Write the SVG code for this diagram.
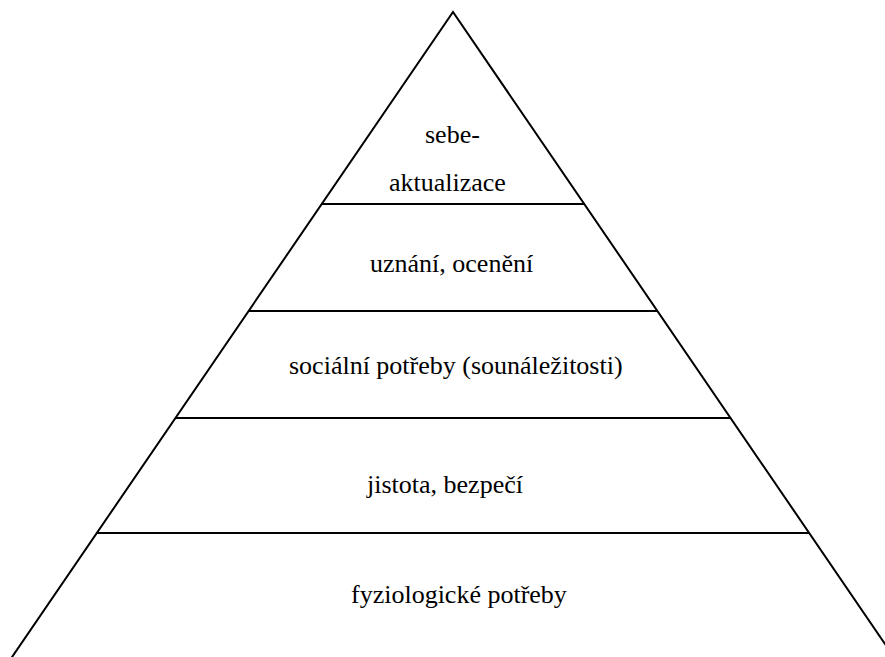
<svg xmlns="http://www.w3.org/2000/svg" width="885" height="657" viewBox="0 0 885 657">
  <rect width="885" height="657" fill="#fff"/>
  <g id="connectors" stroke="#000" stroke-width="2" fill="none">
    <!-- pyramid sides -->
    <polyline points="10,660 453,12 896,660"/>
    <!-- level dividers -->
    <line x1="322" y1="204" x2="584" y2="204"/>
    <line x1="248" y1="311" x2="658" y2="311"/>
    <line x1="175" y1="418" x2="731" y2="418"/>
    <line x1="97" y1="533" x2="809" y2="533"/>
  </g>
  <g id="level-self-actualization">
    <text x="425" y="143" font-family="Liberation Serif" font-size="26">sebe-</text>
    <text x="389" y="191" font-family="Liberation Serif" font-size="26">aktualizace</text>
  </g>
  <g id="level-esteem">
    <text x="370" y="272" font-family="Liberation Serif" font-size="26">uznání, ocenění</text>
  </g>
  <g id="level-belonging">
    <text x="289" y="374" font-family="Liberation Serif" font-size="26">sociální potřeby (sounáležitosti)</text>
  </g>
  <g id="level-safety">
    <text x="367" y="493" font-family="Liberation Serif" font-size="26">jistota, bezpečí</text>
  </g>
  <g id="level-physiological">
    <text x="351" y="603" font-family="Liberation Serif" font-size="26">fyziologické potřeby</text>
  </g>
</svg>
